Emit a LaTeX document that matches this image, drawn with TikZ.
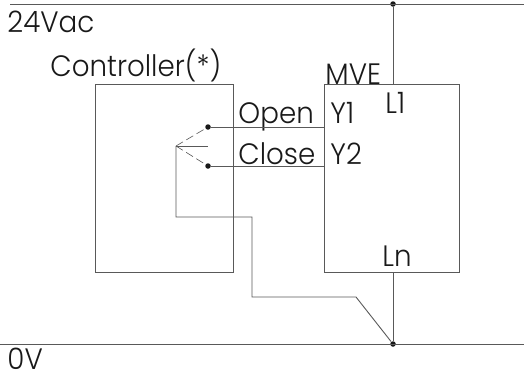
\documentclass[tikz,border=0pt]{standalone}
\usepackage{fontspec}
\setmainfont{Poppins}[UprightFont=* Light,FakeStretch=0.94]
\usepackage{tikz}
\usetikzlibrary{positioning}

\begin{document}
\begin{tikzpicture}[x=1pt,y=-1pt,line width=0.9pt,draw=black!65,node distance=90.5pt]
\tikzstyle{every label text}=[inner sep=0pt,anchor=base west,text=black!90,font=\fontsize{29.5}{29.5}\selectfont]
\tikzstyle{unit}=[draw,minimum width=138pt,minimum height=188pt,inner sep=0pt]
\tikzstyle{contact}=[circle,fill=black!90,inner sep=0pt,minimum size=5.5pt]
\tikzstyle{thinwire}=[line width=0.6pt]
\useasboundingbox (0,0) rectangle (524,372);

\node[unit] (ctrl) at (164.5,178) {};
\node[unit,minimum width=135pt] (mve) [right=90.5pt of ctrl] {};

\node[contact] (open) at (208,127) {};
\node[contact] (close) at (208,166) {};
\node[contact] (top) at (393,4) {};
\node[contact] (bot) at (393,344) {};

\coordinate (pivot) at (176,146);
\coordinate (rest) at (208,146);
\coordinate (openin) at (mve.west |- open);
\coordinate (closein) at (mve.west |- close);
\coordinate (topin) at (mve.north -| top);
\coordinate (botin) at (mve.south -| bot);
\coordinate (a) at (176,217);
\coordinate (b) at (252,217);
\coordinate (c) at (252,297);
\coordinate (d) at (356,297);
\coordinate (railtl) at (10,4);
\coordinate (railtr) at (524,4);
\coordinate (railbl) at (0,344);
\coordinate (railbr) at (524,344);

\node[every label text] (l24) at (7,32) {24Vac};
\node[every label text] (l0) at (7,369) {0V};
\node[every label text] (lctrl) at (50,76) {Controller(*)};
\node[every label text] (lmve) at (325,84) {MVE};
\node[every label text] (ll1) at (385,113) {L1};
\node[every label text] (lopen) at (238,123) {Open};
\node[every label text] (lclose) at (238,164) {Close};
\node[every label text] (ly1) at (330,123) {Y1};
\node[every label text] (ly2) at (330,164) {Y2};
\node[every label text] (lln) at (382,266) {Ln};

\draw (railtl) -- (railtr);
\draw (railbl) -- (railbr);
\draw (top) -- (topin);
\draw (botin) -- (bot);
\draw (open) -- (openin);
\draw (close) -- (closein);
\draw[thinwire,dash pattern=on 8pt off 4pt] (pivot) -- (open);
\draw[thinwire,dash pattern=on 8pt off 4pt] (pivot) -- (close);
\draw[thinwire] (pivot) -- (rest);
\draw (pivot) -- (a) -- (b) -- (c) -- (d) -- (bot);
\end{tikzpicture}
\end{document}
